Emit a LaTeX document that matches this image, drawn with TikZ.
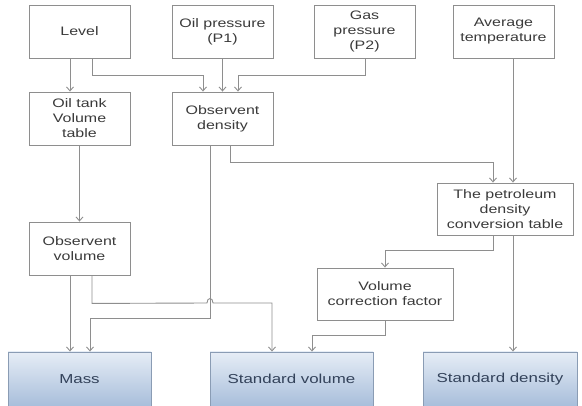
\documentclass[tikz,border=0pt]{standalone}
\usepackage{fontspec}
\setmainfont{Liberation Sans}[FakeStretch=1.3]
\usetikzlibrary{arrows.meta}
\definecolor{lineGray}{HTML}{8E8E8E}
\definecolor{textGray}{HTML}{3A3A3A}
\definecolor{blueEdge}{HTML}{8A9CB4}
\definecolor{blueTop}{HTML}{E6EDF6}
\definecolor{blueBottom}{HTML}{A8BEDB}
\definecolor{blueText}{HTML}{33425A}
\tikzstyle{plainBox}=[shape = rectangle, draw = lineGray, line width = 0.9pt, text = textGray, align = center, inner sep = 0pt, minimum width = 101pt, minimum height = 53pt, font = \fontsize{12.3}{15}\selectfont]
\tikzstyle{wideBox}=[plainBox, minimum width = 136pt, minimum height = 52pt]

\begin{document}
\begin{tikzpicture}[x = 1pt, y = -1pt]
\tikzstyle{resultBox}=[plainBox, draw = blueEdge, top color = blueTop, bottom color = blueBottom, text = blueText, minimum height = 54pt, font = \fontsize{13}{15}\selectfont]
\tikzstyle{flowEdge}=[draw = lineGray, line width = 0.9pt, -{Straight Barb[length=4pt, width=7pt]}]
\useasboundingbox (0,0) rectangle (582,406);
%\draw[red] (0,0) rectangle (582,406);
\node[plainBox] (v0) at (79.5, 31.5) {Level};
\node[plainBox] (v1) at (222.5, 31.5) {Oil pressure\\(P1)};
\node[plainBox] (v2) at (364.5, 31.5) {Gas\\pressure\\(P2)};
\node[plainBox] (v3) at (503.5, 31.5) {Average\\temperature};
\node[plainBox] (v4) at (79.5, 118.5) {Oil tank\\Volume\\table};
\node[plainBox] (v5) at (222.5, 118.5) {Observent\\density};
\node[wideBox] (v6) at (505, 209) {The petroleum\\density\\conversion table};
\node[plainBox] (v7) at (79.5, 248.5) {Observent\\volume};
\node[wideBox] (v8) at (385, 294) {Volume\\correction factor};
\node[resultBox, minimum width = 143pt] (v9) at (79.5, 379) {Mass};
\node[resultBox, minimum width = 163pt] (v10) at (291.5, 379) {Standard volume};
\node[resultBox, minimum width = 154pt] (v11) at (500, 379) {Standard density};
\draw[flowEdge] ([xshift=-9.5]v0.south) -- ([xshift=-9.5]v4.north);
\draw[flowEdge] ([xshift=12.5]v0.south) -- ++(0,17) -| ([xshift=-19.5]v5.north);
\draw[flowEdge] (v1.south) -- (v5.north);
\draw[flowEdge] ([xshift=0.5]v2.south) -- ++(0,17) -| ([xshift=15.5]v5.north);
\draw[flowEdge] ([xshift=9.5]v3.south) -- ([xshift=8]v6.north);
\draw[flowEdge] (v4.south) -- (v7.north);
\draw[flowEdge] ([xshift=7.5]v5.south) -- ++(0,17) -| ([xshift=-12]v6.north);
\draw[flowEdge] ([xshift=-12.5]v5.south) -- ++(0,173) -| ([xshift=10.5]v9.north);
\draw[flowEdge] ([xshift=-12]v6.south) -- ++(0,15) -| (v8.north);
\draw[flowEdge] ([xshift=8]v6.south) -- ([xshift=13]v11.north);
\draw[flowEdge] ([xshift=-9.5]v7.south) -- ([xshift=-9.5]v9.north);
\draw[flowEdge] ([xshift=12.5]v7.south) -- ++(0,28) -- (207,303) .. controls (207,297) and (213,297) .. (213,303) -| ([xshift=-19.5]v10.north);
\draw[flowEdge] (v8.south) -- ++(0,15) -| ([xshift=20.5]v10.north);
\end{tikzpicture}
\end{document}
